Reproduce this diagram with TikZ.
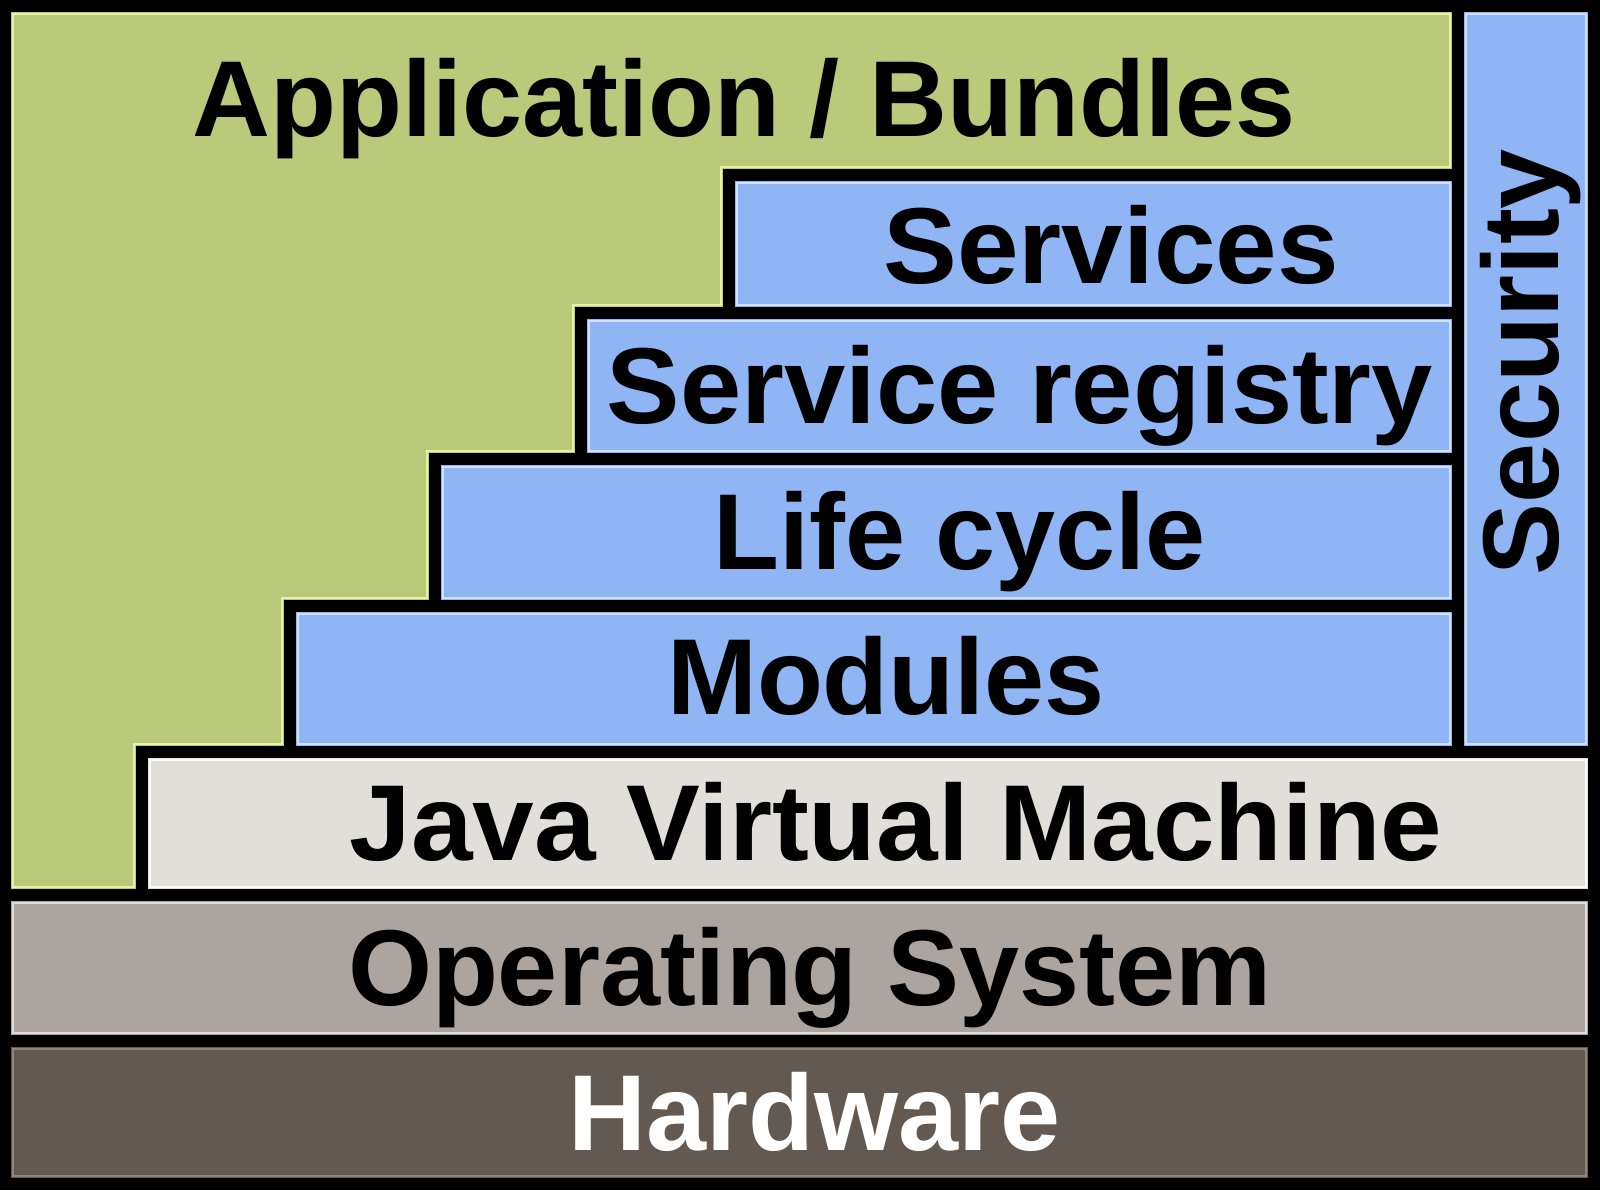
\documentclass[tikz,border=0pt]{standalone}
\usepackage{fontspec}
\setmainfont{Liberation Sans}
\definecolor{appgreen}{HTML}{BAC97A}
\definecolor{appgreenhl}{HTML}{E6F2A6}
\definecolor{fwblue}{HTML}{8FB5F5}
\definecolor{fwbluehl}{HTML}{D0E2FF}
\definecolor{jvmgrey}{HTML}{E2DFDB}
\definecolor{jvmhl}{HTML}{FBFAF8}
\definecolor{osgrey}{HTML}{ACA49E}
\definecolor{oshl}{HTML}{E0DCD8}
\definecolor{hwbrown}{HTML}{635951}
\definecolor{hwhl}{HTML}{8E857E}
\begin{document}
\begin{tikzpicture}[x=0.01cm,y=-0.01cm, line join=miter,
  outline/.style={draw=black, line width=3.4pt},
  hl/.style={line width=0.75pt},
  lbl/.style={font=\bfseries\fontsize{30.7}{36}\selectfont, anchor=base, inner sep=0pt}]
\useasboundingbox[fill=white] (0,0) rectangle (1600,1200);

% ---------- fills ----------
\fill[appgreen] (5,6) -- (1458,6) -- (1458,175) -- (729,175) -- (729,313) -- (581,313)
  -- (581,459) -- (435,459) -- (435,606) -- (290,606) -- (290,752) -- (142,752)
  -- (142,895) -- (5,895) -- cycle;
\fill[fwblue] (1458,6) rectangle (1594,752);
\fill[fwblue] (729,175) rectangle (1458,313);
\fill[fwblue] (581,313) rectangle (1458,459);
\fill[fwblue] (435,459) rectangle (1458,606);
\fill[fwblue] (290,606) rectangle (1458,752);
\fill[jvmgrey] (142,752) rectangle (1594,895);
\fill[osgrey] (5,895) rectangle (1594,1041);
\fill[hwbrown] (5,1041) rectangle (1594,1184);

% ---------- inner highlights ----------
\draw[hl, appgreenhl] (13,14) -- (1450,14) -- (1450,167) -- (721,167) -- (721,305) -- (573,305)
  -- (573,451) -- (427,451) -- (427,598) -- (282,598) -- (282,744) -- (134,744)
  -- (134,887) -- (13,887) -- cycle;
\draw[hl, fwbluehl] (1466,14) rectangle (1586,744);
\draw[hl, fwbluehl] (737,183) rectangle (1450,305);
\draw[hl, fwbluehl] (589,321) rectangle (1450,451);
\draw[hl, fwbluehl] (443,467) rectangle (1450,598);
\draw[hl, fwbluehl] (298,614) rectangle (1450,744);
\draw[hl, jvmhl] (150,760) rectangle (1586,887);
\draw[hl, oshl] (13,903) rectangle (1586,1033);
\draw[hl, hwhl] (13,1049) rectangle (1586,1176);

% ---------- outlines ----------
\draw[outline] (5,6) -- (1458,6) -- (1458,175) -- (729,175) -- (729,313) -- (581,313)
  -- (581,459) -- (435,459) -- (435,606) -- (290,606) -- (290,752) -- (142,752)
  -- (142,895) -- (5,895) -- cycle;
\draw[outline] (1458,6) rectangle (1594,752);
\draw[outline] (729,175) rectangle (1458,313);
\draw[outline] (581,313) rectangle (1458,459);
\draw[outline] (435,459) rectangle (1458,606);
\draw[outline] (290,606) rectangle (1458,752);
\draw[outline] (142,752) rectangle (1594,895);
\draw[outline] (5,895) rectangle (1594,1041);
\draw[outline] (5,1041) rectangle (1594,1184);

% ---------- labels ----------
\node[lbl] (app) at (744,136) {Application / Bundles};
\node[lbl, xscale=1.025] (services) at (1111,283) {Services};
\node[lbl, xscale=1.02] (registry) at (1020,423) {Service registry};
\node[lbl] (lifecycle) at (960,569) {Life cycle};
\node[lbl] (modules) at (886,714) {Modules};
\node[lbl, xscale=1.025] (jvm) at (896,860) {Java Virtual Machine};
\node[lbl] (os) at (810,1005) {Operating System};
\node[lbl, text=white] (hw) at (815,1150) {Hardware};
\node[lbl, rotate=90] (security) at (1558,362) {Security};
\end{tikzpicture}
\end{document}
